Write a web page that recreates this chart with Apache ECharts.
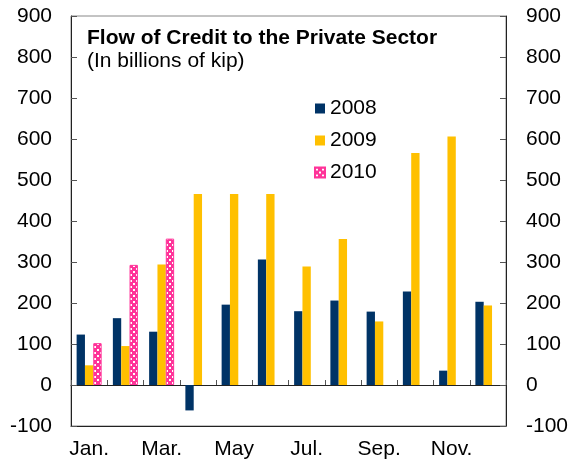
<!DOCTYPE html>
<html>
<head>
<meta charset="utf-8">
<script src="https://cdn.jsdelivr.net/npm/echarts@6/dist/echarts.min.js"></script>
<style>
  html, body { margin: 0; padding: 0; background: #fff; }
  #chart { width: 577px; height: 464px; }
</style>
</head>
<body>
<div id="chart"></div>
<script>
// Monthly flow of credit to the private sector, billions of kip
const months = ['Jan.', 'Feb.', 'Mar.', 'Apr.', 'May', 'Jun.', 'Jul.', 'Aug.', 'Sep.', 'Oct.', 'Nov.', 'Dec.'];
const seriesNames = ['2008', '2009', '2010'];
const values2008 = [123, 163, 130, -62, 196, 306, 180, 206, 179, 228, 35, 203];
const values2009 = [48, 95, 294, 466, 466, 466, 289, 356, 155, 566, 606, 194];
const values2010 = [102, 293, 357, null, null, null, null, null, null, null, null, null];
const yTicks = { min: -100, max: 900, step: 100 };

const FONT = '"Liberation Sans", Arial, sans-serif';
const FS = 21;
const NAVY = '#003366';
const GOLD = '#FFC000';
const PINK = '#FF3399';

// small checkered tile for the 2010 bars
function checkerTile() {
  const c = document.createElement('canvas');
  c.width = 6; c.height = 6;
  const g = c.getContext('2d');
  g.fillStyle = PINK; g.fillRect(0, 0, 6, 6);
  g.fillStyle = '#ffffff';
  g.fillRect(1, 1, 2, 2);
  g.fillRect(4, 4, 2, 2);
  return c;
}

const chart = echarts.init(document.getElementById('chart'), null, { renderer: 'canvas' });

const yAxisBase = {
  type: 'value',
  min: yTicks.min,
  max: yTicks.max,
  interval: yTicks.step,
  splitLine: { show: false },
  axisLine: { show: true, lineStyle: { color: '#222', width: 1 } },
  axisTick: { show: true, inside: true, length: 6, lineStyle: { color: '#555' } },
  axisLabel: { fontSize: FS, fontFamily: FONT, color: '#000' }
};

const option = {
  animation: false,
  backgroundColor: '#fff',
  title: {
    text: 'Flow of Credit to the Private Sector',
    subtext: '(In billions of kip)',
    left: 82,
    top: 27,
    itemGap: 0,
    padding: [0, 5],
    textStyle: { fontSize: FS, fontWeight: 'bold', fontFamily: FONT, color: '#000', lineHeight: 23 },
    subtextStyle: { fontSize: FS, fontFamily: FONT, color: '#000', lineHeight: 23 }
  },
  legend: {
    orient: 'vertical',
    left: 309,
    top: 92,
    itemWidth: 10,
    itemHeight: 10,
    itemGap: 9,
    icon: 'rect',
    data: seriesNames,
    textStyle: { fontSize: FS, fontFamily: FONT, color: '#000', lineHeight: 23 }
  },
  grid: {
    left: 71, right: 71, top: 16, bottom: 38,
    show: true, borderColor: '#888', borderWidth: 1, backgroundColor: 'transparent'
  },
  xAxis: [
    {
      type: 'category',
      data: months,
      position: 'bottom',
      axisLine: { show: true, onZero: true, lineStyle: { color: '#222', width: 1 } },
      axisTick: { show: true, inside: true, length: 5, interval: 0, lineStyle: { color: '#555' } },
      axisLabel: { show: false }
    },
    {
      type: 'category',
      data: months,
      position: 'bottom',
      axisLine: { show: true, onZero: false, lineStyle: { color: '#222', width: 1 } },
      axisTick: { show: false },
      axisLabel: { show: true, interval: 1, fontSize: FS, fontFamily: FONT, color: '#000', margin: 13 }
    }
  ],
  yAxis: [
    Object.assign({}, yAxisBase, { position: 'left', axisLabel: Object.assign({}, yAxisBase.axisLabel, { margin: 19 }) }),
    Object.assign({}, yAxisBase, { position: 'right', axisLabel: Object.assign({}, yAxisBase.axisLabel, { margin: 20 }) })
  ],
  series: [
    {
      name: seriesNames[0], type: 'bar', data: values2008,
      xAxisIndex: 0, yAxisIndex: 0,
      barGap: '0%', barCategoryGap: '31%',
      itemStyle: { color: NAVY }
    },
    {
      name: seriesNames[1], type: 'bar', data: values2009,
      xAxisIndex: 0, yAxisIndex: 0,
      barGap: '0%', barCategoryGap: '31%',
      itemStyle: { color: GOLD }
    },
    {
      name: seriesNames[2], type: 'bar', data: values2010,
      xAxisIndex: 0, yAxisIndex: 0,
      barGap: '0%', barCategoryGap: '31%',
      itemStyle: { color: { image: checkerTile(), repeat: 'repeat' }, borderColor: PINK, borderWidth: 1 }
    }
  ]
};

chart.setOption(option);
</script>
</body>
</html>
